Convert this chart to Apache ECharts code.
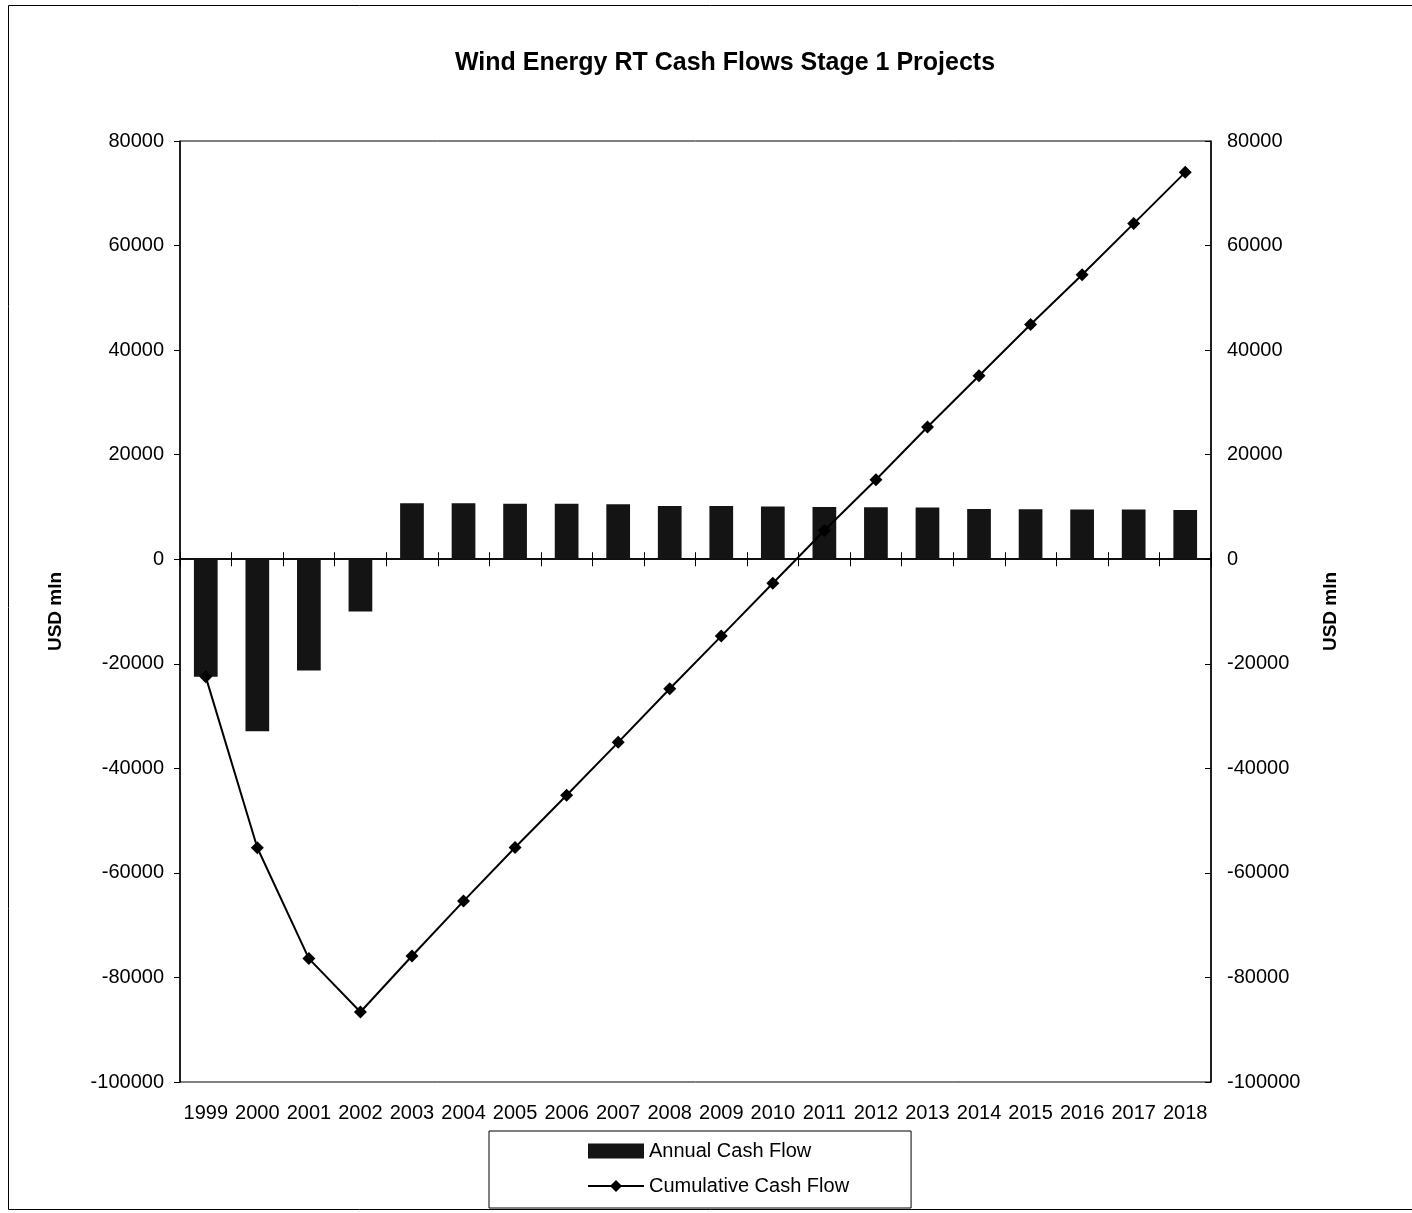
<!DOCTYPE html>
<html>
<head>
<meta charset="utf-8">
<script src="https://cdn.jsdelivr.net/npm/echarts@6/dist/echarts.min.js"></script>
<style>
html,body{margin:0;padding:0;background:#fff;}
#chart{width:1412px;height:1213px;}
</style>
</head>
<body>
<div id="chart"></div>
<script>
const years = ['1999','2000','2001','2002','2003','2004','2005','2006','2007','2008','2009','2010','2011','2012','2013','2014','2015','2016','2017','2018'];
const annualCashFlow = [-22500,-32900,-21300,-10000,10700,10700,10600,10600,10500,10200,10200,10100,10000,9950,9900,9600,9550,9500,9500,9400];
const cumulativeCashFlow = [-22500,-55200,-76400,-86600,-75900,-65400,-55150,-45150,-35030,-24770,-14710,-4590,5500,15200,25300,35100,44900,54400,64200,74000];
const yTicks = {min:-100000, max:80000, interval:20000};

const chart = echarts.init(document.getElementById('chart'));
const font = 'Liberation Sans, Arial, sans-serif';
const fmt = v => String(v);

chart.setOption({
  backgroundColor:'#fff',
  animation:false,
  title:{
    text:'Wind Energy RT Cash Flows Stage 1 Projects',
    left:720, top:46, textAlign:'center',
    textStyle:{fontFamily:font, fontSize:25, fontWeight:'bold', color:'#000'}
  },
  graphic:[{
    type:'rect', shape:{x:8.5,y:5.5,width:1420,height:1204},
    style:{fill:'none', stroke:'#000', lineWidth:1}, silent:true
  }],
  grid:{left:180, right:201, top:141, bottom:131, show:true, borderColor:'#000', borderWidth:1, backgroundColor:'transparent'},
  legend:{
    left:489, top:1131, orient:'vertical',
    padding:[10,62,12,98], itemGap:15,
    itemWidth:56, itemHeight:15,
    borderColor:'#000', borderWidth:1, backgroundColor:'#fff',
    textStyle:{fontFamily:font, fontSize:20, color:'#000'},
    data:[{name:'Annual Cash Flow', icon:'rect'},{name:'Cumulative Cash Flow'}]
  },
  xAxis:[
    {type:'category', data:years, boundaryGap:true, position:'bottom',
     axisLine:{onZero:true, lineStyle:{color:'#000', width:1.5}},
     axisTick:{show:true, inside:true, length:7, lineStyle:{color:'#000'}},
     axisLabel:{show:false}, splitLine:{show:false}},
    {type:'category', data:years, boundaryGap:true, position:'bottom',
     axisLine:{onZero:true, onZeroAxisIndex:0, lineStyle:{color:'#000', width:1.5}},
     axisTick:{show:true, inside:false, length:7, lineStyle:{color:'#000'}},
     axisLabel:{show:false}, splitLine:{show:false}},
    {type:'category', data:years, boundaryGap:true, position:'bottom', offset:0,
     axisLine:{show:false, onZero:false},
     axisTick:{show:false},
     axisLabel:{show:true, interval:0, margin:21, fontFamily:font, fontSize:20, color:'#000'},
     splitLine:{show:false}}
  ],
  yAxis:[
    {type:'value', min:yTicks.min, max:yTicks.max, interval:yTicks.interval, position:'left',
     name:'USD mln', nameLocation:'middle', nameGap:115, nameRotate:90,
     nameTextStyle:{fontFamily:font, fontSize:19, fontWeight:'bold', color:'#000'},
     axisLine:{show:true, lineStyle:{color:'#000', width:1.5}},
     axisTick:{show:true, length:6, lineStyle:{color:'#000'}},
     axisLabel:{formatter:fmt, margin:16, fontFamily:font, fontSize:20, color:'#000'},
     splitLine:{show:false}},
    {type:'value', min:yTicks.min, max:yTicks.max, interval:yTicks.interval, position:'right',
     name:'USD mln', nameLocation:'middle', nameGap:110, nameRotate:90,
     nameTextStyle:{fontFamily:font, fontSize:19, fontWeight:'bold', color:'#000'},
     axisLine:{show:true, lineStyle:{color:'#000', width:1.5}},
     axisTick:{show:true, inside:true, length:6, lineStyle:{color:'#000'}},
     axisLabel:{formatter:fmt, margin:16, fontFamily:font, fontSize:20, color:'#000'},
     splitLine:{show:false}}
  ],
  series:[
    {name:'Annual Cash Flow', type:'bar', data:annualCashFlow, xAxisIndex:0, yAxisIndex:0,
     barWidth:'46%', itemStyle:{color:'#141414'}, z:2},
    {name:'Cumulative Cash Flow', type:'line', data:cumulativeCashFlow, xAxisIndex:0, yAxisIndex:1,
     symbol:'diamond', symbolSize:13,
     lineStyle:{color:'#000', width:2}, itemStyle:{color:'#000'}, z:3}
  ]
});
</script>
</body>
</html>
